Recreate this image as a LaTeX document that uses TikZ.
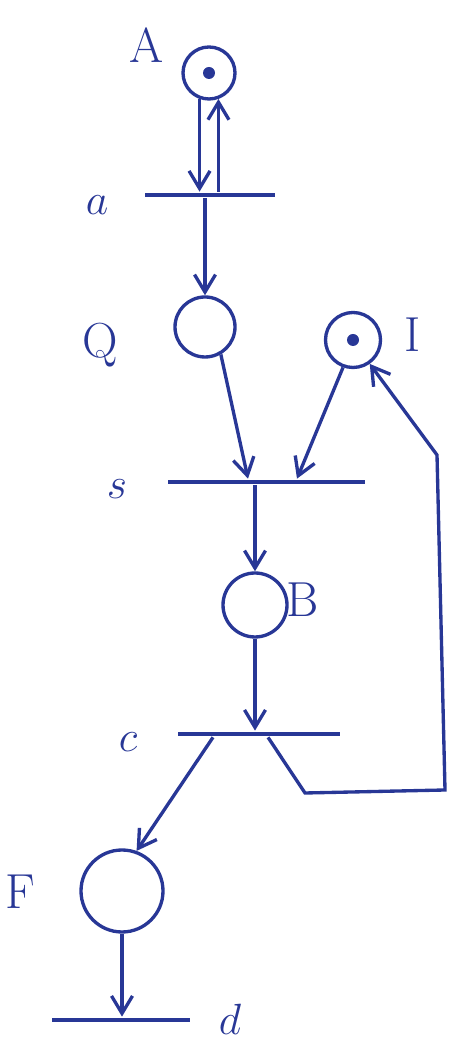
\documentclass[tikz,border=0pt]{standalone}
\usetikzlibrary{arrows.meta, petri, positioning}
\definecolor{ink}{RGB}{40,55,150}

\begin{document}
\begin{tikzpicture}[
    ink, line width=1.9pt,
    place/.style={circle, draw, minimum size=#1, inner sep=0pt},
    bar/.style={rectangle, fill, inner sep=0pt, minimum height=1.9pt, minimum width=#1},
    arc/.style={-{Straight Barb[length=3.5mm, width=4.2mm]}},
    lbl/.style={font=\fontsize{28}{32}\selectfont},
    token/.style={fill, circle, inner sep=0pt, minimum size=2.4mm}
]
    \useasboundingbox (0,0) rectangle (9.16,20.88);

    % places
    \node[place=1.04cm, tokens=1] (A) at (4.18, 19.42) {};
    \node[place=1.2cm] (Q) at (4.1, 14.34) {};
    \node[place=1.1cm, tokens=1] (I) at (7.06, 14.08) {};
    \node[place=1.28cm] (B) at (5.1, 8.78) {};
    \node[place=1.64cm] (F) at (2.44, 3.06) {};

    % transitions
    \node[bar=2.6cm] (a) at (4.2, 16.98) {};
    \node[bar=3.94cm] (s) at (5.32, 11.24) {};
    \node[bar=3.24cm] (c) at (5.18, 6.2) {};
    \node[bar=2.76cm] (d) at (2.42, 0.48) {};

    % labels
    \node[lbl] (lA) at (2.94, 19.98) {A};
    \node[lbl] (la) at (1.94, 16.78) {$a$};
    \node[lbl] (lQ) at (2.0, 13.98) {Q};
    \node[lbl] (lI) at (8.26, 14.18) {I};
    \node[lbl] (ls) at (2.34, 11.1) {$s$};
    \node[lbl] (lB) at (6.06, 8.88) {B};
    \node[lbl] (lc) at (2.56, 6.04) {$c$};
    \node[lbl] (lF) at (0.4, 3.04) {F};
    \node[lbl] (ld) at (4.6, 0.5) {$d$};

    % bends of the feedback arc
    \coordinate (k1) at (6.1, 5.02);
    \coordinate (k2) at (8.9, 5.08);
    \coordinate (k3) at (8.74, 11.78);

    % arcs
    \draw[arc] (A.250) -- (A.250 |- a.north);
    \draw[arc] (A.290 |- a.north) -- (A.290);
    \draw[arc] (Q.north |- a.south) -- (Q.north);
    \draw[arc] (Q.-60) -- ([xshift=-0.36cm]s.north);
    \draw[arc] (I.250) -- ([xshift=0.62cm]s.north);
    \draw[arc] (B.north |- s.south) -- (B.north);
    \draw[arc] (B.south) -- (B.south |- c.north);
    \draw[arc] ([xshift=-0.92cm]c.south) -- (F.70);
    \draw[arc] ([xshift=0.18cm]c.south) -- (k1) -- (k2) -- (k3) -- (I.-55);
    \draw[arc] (F.south) -- (F.south |- d.north);
\end{tikzpicture}
\end{document}
